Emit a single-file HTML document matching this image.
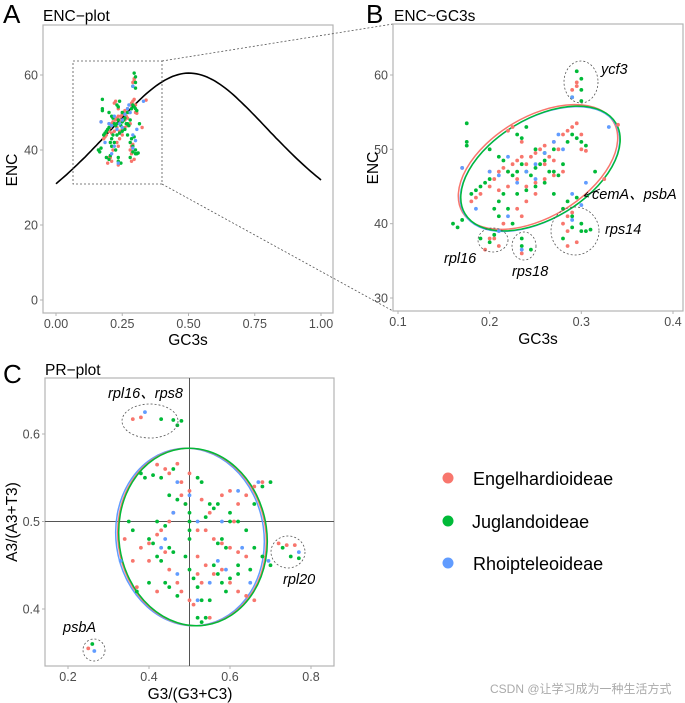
<!DOCTYPE html>
<html><head><meta charset="utf-8">
<style>
body{margin:0;background:#fff;}
svg{display:block;font-family:"Liberation Sans","Noto Sans CJK SC",sans-serif;}
.tick{fill:#4d4d4d;font-size:12.5px;}
.ttl{fill:#000;font-size:15.5px;}
.ann{font-style:italic;font-size:14.5px;fill:#000;}
</style></head>
<body>
<svg id="fig" width="685" height="703" viewBox="0 0 685 703">
<g id="gA"></g>
<g id="gB"></g>
<g id="gC"></g>
<g>
 <g><circle cx="448" cy="478" r="5.5" fill="#F8766D"/><text x="473" y="485" font-size="18">Engelhardioideae</text></g>
 <g><circle cx="448" cy="521" r="5.5" fill="#00BA38"/><text x="472" y="528" font-size="18">Juglandoideae</text></g>
 <g><circle cx="448" cy="563" r="5.5" fill="#619CFF"/><text x="473" y="570" font-size="18">Rhoipteleoideae</text></g>
</g>
<text x="490" y="693" font-size="12" fill="#aaa">CSDN @让学习成为一种生活方式</text>
</svg>
<script>
const seriesNames=["Engelhardioideae","Juglandoideae","Rhoipteleoideae"];
const colors=["#F8766D","#00BA38","#619CFF"];
const encRed=[[0.18,43],[0.185,43.5],[0.19,44],[0.2,45],[0.205,46],[0.21,47],[0.215,47.5],[0.22,47],[0.225,48],[0.23,48.5],[0.235,49],[0.24,48],[0.245,49],[0.25,49.5],[0.255,50],[0.26,50.5],[0.265,49],[0.27,51],[0.275,50],[0.28,52],[0.285,52.5],[0.29,53],[0.295,53.5],[0.3,52],[0.305,49.8],[0.3,50],[0.22,52.5],[0.225,53],[0.235,51],[0.24,45],[0.25,45.5],[0.26,46],[0.27,46.5],[0.28,47],[0.23,42],[0.235,41],[0.24,43],[0.25,44],[0.215,40],[0.2,38],[0.195,36.5],[0.205,38],[0.21,37],[0.235,36],[0.285,41],[0.29,41.5],[0.28,40],[0.285,39],[0.285,37],[0.295,37.5],[0.29,58],[0.295,58.5],[0.295,59],[0.34,53.3],[0.325,46],[0.2,47],[0.21,44.5],[0.22,45],[0.23,46],[0.17,47.5],[0.26,48],[0.27,48.5]];
const encGreen=[[0.16,40],[0.165,39.5],[0.17,40.5],[0.175,53.5],[0.175,51],[0.175,50.5],[0.18,44],[0.185,44.5],[0.19,45],[0.195,45.5],[0.2,46],[0.205,42],[0.21,43],[0.21,41],[0.215,44],[0.22,47],[0.225,46.5],[0.23,47],[0.235,48],[0.24,47],[0.245,46.5],[0.25,47.5],[0.255,48],[0.26,48.5],[0.265,47],[0.27,47],[0.275,46.5],[0.28,48],[0.285,51],[0.29,52],[0.295,51.5],[0.3,51],[0.305,50.5],[0.23,52],[0.24,53],[0.235,51.5],[0.25,50],[0.26,49.5],[0.27,50],[0.22,42],[0.225,40],[0.23,44],[0.24,44.5],[0.25,45],[0.26,45.5],[0.27,44],[0.19,38],[0.2,37.5],[0.205,38.5],[0.235,38],[0.235,37],[0.245,36.5],[0.28,42],[0.285,43],[0.29,41],[0.295,43.5],[0.3,39],[0.305,39],[0.3,40],[0.31,39.2],[0.29,39.5],[0.28,38],[0.295,60.5],[0.3,59.5],[0.3,58],[0.29,57],[0.3,56.5],[0.315,47],[0.21,49],[0.215,48.5],[0.2,50]];
const encBlue=[[0.17,47.5],[0.185,42],[0.2,47],[0.21,46.5],[0.22,49],[0.23,45.5],[0.24,47],[0.25,48],[0.26,49.5],[0.27,51],[0.275,52],[0.28,50],[0.29,44],[0.305,45.5],[0.3,42.5],[0.29,40.5],[0.29,57],[0.33,53],[0.235,36.5],[0.21,39],[0.22,41],[0.25,46]];
const prRed=[[0.25,0.355],[0.36,0.617],[0.38,0.619],[0.42,0.565],[0.44,0.56],[0.45,0.555],[0.47,0.566],[0.5,0.555],[0.48,0.53],[0.49,0.52],[0.46,0.51],[0.45,0.5],[0.43,0.49],[0.42,0.485],[0.4,0.475],[0.38,0.47],[0.36,0.455],[0.4,0.455],[0.44,0.465],[0.45,0.445],[0.47,0.43],[0.48,0.42],[0.42,0.42],[0.37,0.425],[0.5,0.41],[0.51,0.405],[0.52,0.44],[0.53,0.43],[0.54,0.45],[0.56,0.44],[0.58,0.445],[0.6,0.43],[0.62,0.42],[0.64,0.415],[0.66,0.41],[0.52,0.49],[0.54,0.49],[0.56,0.48],[0.58,0.475],[0.6,0.47],[0.62,0.465],[0.64,0.46],[0.61,0.5],[0.58,0.53],[0.6,0.535],[0.62,0.52],[0.64,0.53],[0.66,0.54],[0.68,0.545],[0.55,0.51],[0.53,0.525],[0.5,0.5],[0.52,0.46],[0.55,0.39],[0.72,0.475],[0.74,0.473],[0.76,0.473],[0.34,0.48],[0.5,0.535],[0.48,0.545]];
const prGreen=[[0.26,0.36],[0.43,0.617],[0.46,0.616],[0.47,0.61],[0.48,0.615],[0.38,0.555],[0.39,0.55],[0.41,0.553],[0.43,0.55],[0.46,0.56],[0.45,0.53],[0.47,0.525],[0.49,0.52],[0.5,0.51],[0.5,0.5],[0.5,0.49],[0.5,0.48],[0.49,0.46],[0.5,0.445],[0.51,0.435],[0.52,0.425],[0.53,0.41],[0.52,0.39],[0.53,0.385],[0.54,0.39],[0.55,0.41],[0.56,0.45],[0.57,0.44],[0.58,0.43],[0.59,0.42],[0.6,0.435],[0.55,0.52],[0.56,0.515],[0.57,0.52],[0.54,0.505],[0.6,0.5],[0.62,0.5],[0.64,0.49],[0.66,0.47],[0.68,0.46],[0.7,0.45],[0.58,0.48],[0.57,0.475],[0.59,0.47],[0.6,0.51],[0.62,0.45],[0.66,0.52],[0.68,0.54],[0.7,0.545],[0.4,0.48],[0.41,0.475],[0.42,0.46],[0.43,0.455],[0.45,0.47],[0.46,0.465],[0.4,0.43],[0.44,0.43],[0.45,0.425],[0.47,0.415],[0.37,0.42],[0.36,0.49],[0.44,0.495],[0.42,0.5],[0.52,0.55],[0.53,0.545],[0.73,0.47],[0.75,0.46],[0.77,0.458],[0.65,0.445],[0.62,0.44],[0.35,0.5]];
const prBlue=[[0.265,0.352],[0.39,0.625],[0.47,0.545],[0.5,0.53],[0.43,0.47],[0.46,0.51],[0.52,0.5],[0.58,0.5],[0.62,0.535],[0.67,0.545],[0.65,0.43],[0.55,0.43],[0.52,0.41],[0.47,0.44],[0.33,0.455],[0.77,0.465],[0.44,0.48],[0.57,0.455],[0.63,0.47],[0.59,0.445],[0.695,0.455]];
const aXTicks=["0.00","0.25","0.50","0.75","1.00"];
const aYTicks=["0","20","40","60"];
const bXTicks=["0.1","0.2","0.3","0.4"];
const bYTicks=["30","40","50","60"];
const cXTicks=["0.2","0.4","0.6","0.8"];
const cYTicks=["0.4","0.5","0.6"];

const NS="http://www.w3.org/2000/svg";
function mk(parent,tag,attrs,txt){const e=document.createElementNS(NS,tag);for(const k in attrs)e.setAttribute(k,attrs[k]);if(txt!==undefined)e.textContent=txt;parent.appendChild(e);return e;}
function lin(d0,d1,p0,p1){return v=>p0+(v-d0)*(p1-p0)/(d1-d0);}

function panel(g,box,sx,sy,xt,yt){
  const r=mk(g,"rect",{x:box[0],y:box[1],width:box[2]-box[0],height:box[3]-box[1],fill:"#fff",stroke:"#b3b3b3","stroke-width":1.2});
  
  
  xt.forEach(t=>{const x=sx(parseFloat(t));
    const l=mk(g,"line",{x1:x,x2:x,y1:box[3],y2:box[3]+3,stroke:"#b3b3b3"});
    
    
    const tx=mk(g,"text",{x:x,y:box[3]+15,"text-anchor":"middle",class:"tick"},t);
    
    });
  yt.forEach(t=>{const y=sy(parseFloat(t));
    const l=mk(g,"line",{x1:box[0]-3,x2:box[0],y1:y,y2:y,stroke:"#b3b3b3"});
    
    
    const tx=mk(g,"text",{x:box[0]-5,y:y+4.5,"text-anchor":"end",class:"tick"},t);
    
    });
}
function points(g,data,sx,sy,color,r,name){
  data.forEach(p=>{const c=mk(g,"circle",{cx:sx(p[0]),cy:sy(p[1]),r:r,fill:color});
    
    });
}
function txt(g,x,y,s,cls,extra,name){const t=mk(g,"text",Object.assign({x:x,y:y,class:cls},extra||{}),s);
  
  return t;}
function dashEll(g,cx,cy,rx,ry,name){const e=mk(g,"ellipse",{cx:cx,cy:cy,rx:rx,ry:ry,fill:"none",stroke:"#555","stroke-width":0.8,"stroke-dasharray":"2,2"});
  
  }

// Panel A
const gA=document.getElementById("gA");
const axA=lin(0,1,56,321), ayA=lin(0,60,300,75);
panel(gA,[43,25,333,313],axA,ayA,aXTicks,aYTicks);
let d="";for(let i=0;i<=100;i++){const s=i/100;const e=2+s+29/(s*s+(1-s)*(1-s));d+=(i?"L":"M")+axA(s).toFixed(1)+","+ayA(e).toFixed(1);}
const cv=mk(gA,"path",{d:d,fill:"none",stroke:"#000","stroke-width":1.6});


const zr=mk(gA,"rect",{x:73,y:61,width:89,height:123,fill:"none",stroke:"#555","stroke-width":0.8,"stroke-dasharray":"2,2"});


[[encRed,0],[encGreen,1],[encBlue,2]].forEach(([dd,i])=>points(gA,dd,axA,ayA,colors[i],1.7,"point-a-"+seriesNames[i].toLowerCase()));
txt(gA,3,23,"A","",{"font-size":26},"panel-label-a");
txt(gA,43,21,"ENC−plot","ttl",{"font-size":16},"title-a");
txt(gA,188,345,"GC3s","ttl",{"text-anchor":"middle"},"x-axis-title-a");
txt(gA,0,0,"ENC","ttl",{"text-anchor":"middle",transform:"translate(17,170) rotate(-90)"},"y-axis-title-a");
const zl1=mk(gA,"line",{x1:162,y1:61,x2:393,y2:24,stroke:"#555","stroke-width":0.8,"stroke-dasharray":"2,2"});


const zl2=mk(gA,"line",{x1:162,y1:184,x2:393,y2:311,stroke:"#555","stroke-width":0.8,"stroke-dasharray":"2,2"});



// Panel B
const gB=document.getElementById("gB");
const axB=lin(0.1,0.4,398,673), ayB=lin(30,60,298,75);
panel(gB,[393,24,683,311],axB,ayB,bXTicks,bYTicks);
[["#F8766D",-1,-1],["#619CFF",1,1],["#00BA38",1.5,0.5]].forEach(([c,dx,dy])=>{
 const e=mk(gB,"ellipse",{cx:539+dx,cy:168+dy,rx:88,ry:50,fill:"none",stroke:c,"stroke-width":1.5,transform:`rotate(-31 ${539+dx} ${168+dy})`});
 
 });
[[encRed,0],[encGreen,1],[encBlue,2]].forEach(([dd,i])=>points(gB,dd,axB,ayB,colors[i],1.9,"point-b-"+seriesNames[i].toLowerCase()));
dashEll(gB,581,82,17,21,"ycf3-circle");
dashEll(gB,493,240,15,12,"rpl16-circle");
dashEll(gB,524,246,12,14,"rps18-circle");
dashEll(gB,575,231,24,24,"rps14-circle");
txt(gB,601,74,"ycf3","ann",{},"label-ycf3");
txt(gB,592,199,"cemA、psbA","ann",{},"label-cema-psba");
txt(gB,605,234,"rps14","ann",{},"label-rps14");
txt(gB,444,263,"rpl16","ann",{},"label-rpl16");
txt(gB,512,276,"rps18","ann",{},"label-rps18");
const ar=mk(gB,"path",{d:"M600,189 L584,196 M584,196 l4,-4 M584,196 l5,1",stroke:"#000",fill:"none","stroke-width":0.8});


txt(gB,366,23,"B","",{"font-size":26},"panel-label-b");
txt(gB,394,21,"ENC~GC3s","ttl",{"font-size":16},"title-b");
txt(gB,538,344,"GC3s","ttl",{"text-anchor":"middle"},"x-axis-title-b");
txt(gB,0,0,"ENC","ttl",{"text-anchor":"middle",transform:"translate(378,168) rotate(-90)"},"y-axis-title-b");

// Panel C
const gC=document.getElementById("gC");
const axC=lin(0.2,0.8,68,311), ayC=lin(0.4,0.6,609,434);
panel(gC,[45,378,334,666],axC,ayC,cXTicks,cYTicks);
const vl=mk(gC,"line",{x1:axC(0.5),x2:axC(0.5),y1:378,y2:666,stroke:"#555","stroke-width":1});


const hl=mk(gC,"line",{x1:45,x2:334,y1:ayC(0.5),y2:ayC(0.5),stroke:"#555","stroke-width":1});


[["#619CFF",-2,0],["#F8766D",0,0],["#00BA38",1,0]].forEach(([c,dx,dy])=>{
 const e=mk(gC,"ellipse",{cx:192+dx,cy:537+dy,rx:74,ry:89,fill:"none",stroke:c,"stroke-width":1.5,transform:`rotate(-8 ${192+dx} ${537+dy})`});
 
 });
[[prRed,0],[prGreen,1],[prBlue,2]].forEach(([dd,i])=>points(gC,dd,axC,ayC,colors[i],1.9,"point-c-"+seriesNames[i].toLowerCase()));
dashEll(gC,150,421,28,17,"rpl16-rps8-circle");
dashEll(gC,288,552,17,16,"rpl20-circle");
dashEll(gC,94,650,11,11,"psba-circle");
txt(gC,108,398,"rpl16、rps8","ann",{},"label-rpl16-rps8");
txt(gC,283,584,"rpl20","ann",{},"label-rpl20");
txt(gC,63,632,"psbA","ann",{},"label-psba");
txt(gC,3,383,"C","",{"font-size":26},"panel-label-c");
txt(gC,45,375,"PR−plot","ttl",{"font-size":16},"title-c");
txt(gC,190,699,"G3/(G3+C3)","ttl",{"text-anchor":"middle"},"x-axis-title-c");
txt(gC,0,0,"A3/(A3+T3)","ttl",{"text-anchor":"middle",transform:"translate(17,522) rotate(-90)"},"y-axis-title-c");
</script>
</body></html>
